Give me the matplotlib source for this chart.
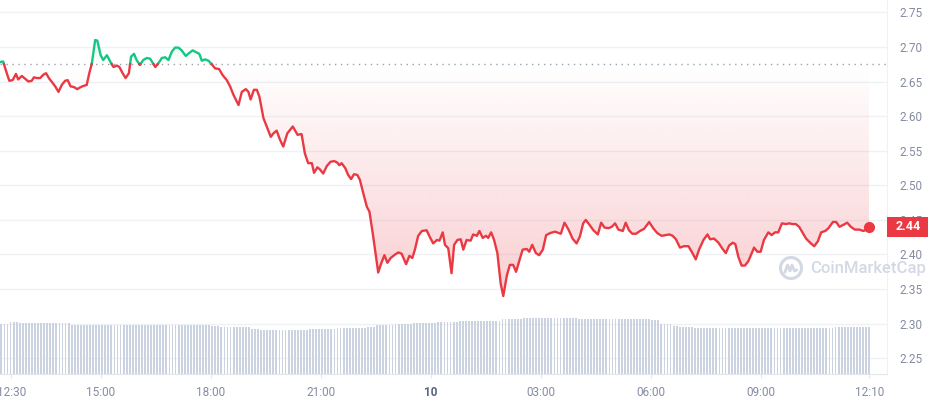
import numpy as np
import matplotlib
import matplotlib.pyplot as plt
import matplotlib.colors as mcolors
import matplotlib.transforms as mtransforms
from matplotlib.patches import Rectangle, Circle, Polygon

plt.rcParams['font.family'] = ['Roboto', 'DejaVu Sans']

# hours after 12:00 on the 9th
hours = [0.25, 0.33, 0.43, 0.50, 0.59, 0.68, 0.74, 0.84, 0.93, 1.02,
         1.11, 1.17, 1.25, 1.34, 1.43, 1.50, 1.59, 1.68, 1.75, 1.84,
         1.93, 2.02, 2.09, 2.17, 2.26, 2.35, 2.45, 2.54, 2.61, 2.68,
         2.75, 2.84, 2.90, 2.99, 3.06, 3.16, 3.25, 3.34, 3.43, 3.50,
         3.59, 3.67, 3.76, 3.82, 3.90, 3.97, 4.06, 4.15, 4.25, 4.34,
         4.48, 4.56, 4.66, 4.75, 4.84, 4.93, 5.02, 5.11, 5.20, 5.31,
         5.40, 5.50, 5.61, 5.68, 5.75, 5.84, 5.93, 6.02, 6.11, 6.22,
         6.32, 6.43, 6.52, 6.61, 6.75, 6.84, 6.95, 7.02, 7.08, 7.17,
         7.25, 7.32, 7.43, 7.52, 7.63, 7.70, 7.79, 7.88, 7.97, 8.08,
         8.23, 8.36, 8.47, 8.56, 8.65, 8.75, 8.81, 8.90, 8.97, 9.06,
         9.16, 9.26, 9.36, 9.44, 9.50, 9.56, 9.66, 9.74, 9.82, 9.90,
         9.99, 10.06, 10.15, 10.25, 10.32, 10.41, 10.50, 10.56, 10.64, 10.73,
         10.81, 10.90, 11.02, 11.11, 11.20, 11.32, 11.41, 11.49, 11.56, 11.65,
         11.75, 11.88, 11.97, 12.06, 12.16, 12.23, 12.32, 12.38, 12.47, 12.56,
         12.63, 12.72, 12.81, 12.88, 12.97, 13.08, 13.15, 13.25, 13.32, 13.41,
         13.50, 13.56, 13.64, 13.72, 13.81, 13.90, 13.97, 14.07, 14.15, 14.24,
         14.32, 14.43, 14.50, 14.61, 14.68, 14.76, 14.86, 14.95, 15.05, 15.14,
         15.25, 15.38, 15.54, 15.64, 15.75, 15.86, 15.97, 16.06, 16.15, 16.22,
         16.32, 16.43, 16.55, 16.64, 16.73, 16.84, 16.93, 17.02, 17.11, 17.23,
         17.31, 17.40, 17.49, 17.59, 17.70, 17.81, 17.95, 18.06, 18.17, 18.29,
         18.40, 18.50, 18.59, 18.68, 18.79, 18.90, 19.02, 19.11, 19.22, 19.31,
         19.43, 19.54, 19.61, 19.72, 19.84, 19.94, 20.04, 20.13, 20.23, 20.30,
         20.38, 20.47, 20.56, 20.65, 20.70, 20.81, 20.90, 20.99, 21.08, 21.20,
         21.29, 21.38, 21.47, 21.57, 21.68, 21.77, 21.86, 21.95, 22.04, 22.14,
         22.23, 22.36, 22.45, 22.55, 22.64, 22.75, 22.84, 22.96, 23.05, 23.14,
         23.25, 23.35, 23.45, 23.56, 23.68, 23.79, 23.88, 23.95]

prices = [2.678, 2.679, 2.662, 2.651, 2.652, 2.661, 2.653, 2.658, 2.654, 2.650,
          2.651, 2.656, 2.655, 2.655, 2.660, 2.662, 2.654, 2.648, 2.643, 2.635,
          2.645, 2.651, 2.652, 2.643, 2.642, 2.639, 2.642, 2.644, 2.645, 2.662,
          2.676, 2.710, 2.709, 2.688, 2.681, 2.688, 2.679, 2.671, 2.673, 2.671,
          2.662, 2.655, 2.662, 2.686, 2.690, 2.681, 2.674, 2.681, 2.684, 2.683,
          2.671, 2.676, 2.684, 2.685, 2.681, 2.693, 2.699, 2.699, 2.695, 2.687,
          2.691, 2.695, 2.692, 2.690, 2.680, 2.682, 2.680, 2.675, 2.669, 2.668,
          2.659, 2.652, 2.643, 2.631, 2.616, 2.635, 2.639, 2.635, 2.624, 2.638,
          2.638, 2.628, 2.597, 2.585, 2.570, 2.575, 2.579, 2.566, 2.556, 2.575,
          2.585, 2.573, 2.574, 2.546, 2.532, 2.532, 2.518, 2.526, 2.523, 2.517,
          2.528, 2.534, 2.535, 2.533, 2.529, 2.532, 2.525, 2.515, 2.509, 2.516,
          2.515, 2.508, 2.489, 2.469, 2.462, 2.431, 2.397, 2.374, 2.387, 2.399,
          2.388, 2.395, 2.400, 2.403, 2.401, 2.386, 2.398, 2.395, 2.407, 2.427,
          2.434, 2.435, 2.425, 2.416, 2.421, 2.420, 2.432, 2.414, 2.409, 2.373,
          2.414, 2.421, 2.422, 2.407, 2.421, 2.420, 2.429, 2.427, 2.434, 2.424,
          2.427, 2.424, 2.432, 2.421, 2.402, 2.358, 2.340, 2.370, 2.385, 2.385,
          2.375, 2.395, 2.407, 2.408, 2.404, 2.414, 2.402, 2.399, 2.407, 2.428,
          2.431, 2.433, 2.430, 2.446, 2.436, 2.423, 2.416, 2.426, 2.445, 2.450,
          2.443, 2.435, 2.429, 2.446, 2.439, 2.438, 2.440, 2.445, 2.436, 2.434,
          2.446, 2.435, 2.430, 2.430, 2.434, 2.437, 2.447, 2.438, 2.431, 2.427,
          2.428, 2.429, 2.427, 2.422, 2.410, 2.412, 2.412, 2.404, 2.393, 2.407,
          2.421, 2.429, 2.422, 2.423, 2.417, 2.409, 2.402, 2.413, 2.417, 2.415,
          2.397, 2.384, 2.384, 2.390, 2.396, 2.410, 2.404, 2.404, 2.421, 2.432,
          2.428, 2.432, 2.432, 2.445, 2.444, 2.445, 2.444, 2.444, 2.440, 2.431,
          2.423, 2.416, 2.412, 2.419, 2.432, 2.434, 2.438, 2.447, 2.447, 2.440,
          2.443, 2.446, 2.440, 2.436, 2.436, 2.434, 2.436, 2.440]

open_price = 2.675
last_label = "2.44"

# volume (millions), stored as runs of equal 5-minute bars
vol_levels = [101, 104, 102, 99, 98, 96, 94, 91, 88, 90, 92, 93, 95, 98,
              100, 102, 104, 107, 110, 112, 110, 108, 101, 97, 95, 93, 95]
vol_counts = [6, 3, 17, 17, 29, 3, 10, 3, 16, 9, 7, 3, 3, 6,
              6, 8, 7, 14, 7, 18, 24, 3, 4, 2, 5, 46, 12]

y_ticks = [2.25, 2.30, 2.35, 2.40, 2.45, 2.50, 2.55, 2.60, 2.65, 2.70, 2.75]
x_tick_hours = [0.55, 3, 6, 9, 12, 15, 18, 21, 23.95]
x_tick_labels = ['12:30', '15:00', '18:00', '21:00', '10', '03:00', '06:00', '09:00', '12:10']

RED = '#ea3943'
GREEN = '#16c784'
GREY = '#858ca2'
GRID = '#eff2f5'

fig = plt.figure(figsize=(9.29, 4.0), dpi=100)
ax = fig.add_axes([0, 0.065, 887 / 929, 0.935])
XMIN, XMAX = 0.245, 24.436
YMIN, YMAX = 2.2273, 2.7678

t = np.array(hours)
p = np.array(prices)

# add crossing points with the open price so colours switch cleanly
tt, pp = [t[0]], [p[0]]
for i in range(1, len(t)):
    a, b = p[i - 1] - open_price, p[i] - open_price
    if a * b < 0:
        f = a / (a - b)
        tt.append(t[i - 1] + f * (t[i] - t[i - 1]))
        pp.append(open_price)
    tt.append(t[i])
    pp.append(p[i])
tt, pp = np.array(tt), np.array(pp)


def grad_fill(ax, ys, color, y0, y1, a0, a1):
    verts = np.column_stack([np.r_[tt, tt[-1], tt[0]], np.r_[ys, open_price, open_price]])
    poly = Polygon(verts, closed=True, facecolor='none', edgecolor='none', transform=ax.transData)
    ax.add_patch(poly)
    img = np.zeros((256, 1, 4))
    img[..., :3] = mcolors.to_rgb(color)
    img[:, 0, 3] = np.linspace(a0, a1, 256)
    im = ax.imshow(img, extent=[tt[0], tt[-1], y0, y1], origin='lower',
                   aspect='auto', zorder=1, interpolation='bilinear')
    im.set_clip_path(poly)


grad_fill(ax, np.minimum(pp, open_price), RED, 2.34, open_price, 0.245, 0.0)
grad_fill(ax, np.maximum(pp, open_price), GREEN, open_price, 2.715, 0.0, 0.14)

ax.axhline(open_price, color='#9aa1b1', lw=1, ls=(0, (1, 3.3)), zorder=2)

up = np.where(pp >= open_price, pp, np.nan)
dn = np.where(pp <= open_price, pp, np.nan)
ax.plot(tt, up, color=GREEN, lw=1.7, zorder=3, solid_joinstyle='round')
ax.plot(tt, dn, color=RED, lw=1.7, zorder=3, solid_joinstyle='round')
ax.plot(t[-1], p[-1], 'o', color=RED, ms=7, zorder=4)

ax.set_xlim(XMIN, XMAX)
ax.set_ylim(YMIN, YMAX)
ax.set_yticks(y_ticks, [f'{v:.2f}' for v in y_ticks])
ax.set_xticks(x_tick_hours, x_tick_labels)
ax.yaxis.tick_right()
ax.grid(axis='y', color=GRID, lw=1)
ax.set_axisbelow(True)
for s in ['top', 'left']:
    ax.spines[s].set_visible(False)
ax.spines['right'].set_color(GRID)
ax.spines['bottom'].set_color('#e3e6eb')
ax.tick_params(axis='y', length=0, pad=9, labelsize=8.5, labelcolor=GREY)
ax.tick_params(axis='x', length=3, color='#e3e6eb', pad=6, labelsize=8.5, labelcolor=GREY)
for lab in ax.get_xticklabels():
    if lab.get_text() == '10':
        lab.set_fontweight('bold')
        lab.set_color('#58667e')

# last price tag on the right axis
trans = mtransforms.blended_transform_factory(ax.transAxes, ax.transData)
ax.add_patch(Rectangle((1.0, p[-1] - 0.0145), 45 / 887, 0.029, transform=trans,
                       facecolor=RED, edgecolor='none', clip_on=False, zorder=6))
ax.text(1.0 + 21 / 887, p[-1], last_label, transform=trans, ha='center', va='center',
        color='white', fontsize=9, fontweight='bold', zorder=7, clip_on=False)

# volume bars on an overlay axes
axv = fig.add_axes(ax.get_position(), sharex=ax, zorder=2)
axv.patch.set_alpha(0)
vols = np.repeat(vol_levels, vol_counts)
bar_t = t[-1] - np.arange(len(vols))[::-1] * 5 / 60
axv.bar(bar_t, vols, width=0.6 * 5 / 60, color='#cbd3e1', align='center')
axv.set_ylim(0, 748)
axv.set_xlim(XMIN, XMAX)
axv.axis('off')

# watermark
wm = '#d3d9e4'
fig.text(810 / 929, 1 - 268 / 400, 'CoinMarketCap', color=wm, fontsize=12,
         fontweight='medium', ha='left', va='center')
fig.patches.append(Circle((7.91, 1.32), 0.105, transform=fig.dpi_scale_trans,
                          fill=False, edgecolor=wm, lw=2.2))
fig.lines.append(matplotlib.lines.Line2D(
    [7.85, 7.875, 7.90, 7.92, 7.945, 7.965], [1.28, 1.35, 1.29, 1.35, 1.29, 1.30],
    transform=fig.dpi_scale_trans, color=wm, lw=2, solid_joinstyle='round'))

fig.savefig('out.png', dpi=100)
